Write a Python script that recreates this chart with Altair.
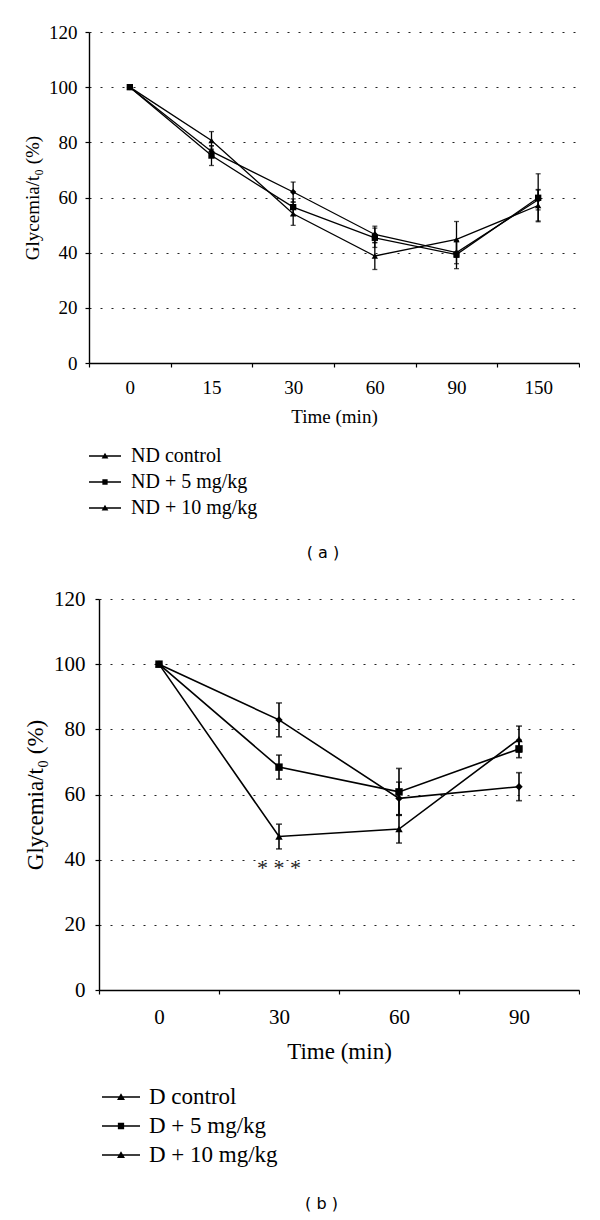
import altair as alt
import pandas as pd

# ---------------- data ----------------
times_a = ["0", "15", "30", "60", "90", "150"]
series_a = ["ND control", "ND + 5 mg/kg", "ND + 10 mg/kg"]
nd_control = [100, 76.7, 62.0, 46.6, 40.0, 59.2]
nd_control_err = [0, 2.0, 3.6, 3.0, 4.0, 3.7]
nd_5 = [100, 75.2, 56.5, 45.4, 39.3, 59.9]
nd_5_err = [0, 3.6, 3.0, 3.5, 5.1, 8.7]
nd_10 = [100, 80.7, 54.1, 38.8, 44.8, 57.1]
nd_10_err = [0, 3.2, 4.2, 4.9, 6.5, 5.6]

times_b = ["0", "30", "60", "90"]
series_b = ["D control", "D + 5 mg/kg", "D + 10 mg/kg"]
d_control = [100, 82.9, 58.8, 62.4]
d_control_err = [0, 5.2, 5.0, 4.3]
d_5 = [100, 68.4, 60.8, 74.0]
d_5_err = [0, 3.7, 7.2, 2.7]
d_10 = [100, 47.1, 49.4, 77.0]
d_10_err = [0, 3.8, 4.3, 4.0]

annot_b = {"time": "30", "value": 37.4, "text": "* * *"}

y_ticks = [0, 20, 40, 60, 80, 100, 120]
plot_shapes = ["diamond", "square", "triangle-up"]
# legend symbols: a short horizontal bar with the marker on it
legend_shapes = [
    "M-2,-0.08H2V0.08H-2ZM0,-0.4L0.42,0.32H-0.42Z",
    "M-2,-0.08H2V0.08H-2ZM-0.33,-0.33H0.33V0.33H-0.33Z",
    "M-2,-0.08H2V0.08H-2ZM0,-0.4L0.42,0.32H-0.42Z",
]

SERIF = "Liberation Serif"


def make_df(times, series, values, errs):
    rows = []
    for s, vals, es in zip(series, values, errs):
        for i, (t, v, e) in enumerate(zip(times, vals, es)):
            rows.append({"series": s, "time": t, "idx": i, "value": v,
                         "err": e, "lo": v - e, "hi": v + e})
    return pd.DataFrame(rows)


def panel(times, series, values, errs, width, height, inset, lab_fs, title_fs,
          leg_fs, lw, msize, cap, label_pad, title_pad_x, y_label_pad,
          y_title_pad, leg_size, leg_off, leg_x, leg_y, leg_rowpad,
          caption, cap_offset, cap_dx, annot=None):
    df = make_df(times, series, values, errs)
    base = alt.Chart(df)
    total_w = width + inset
    if inset:
        xscale = alt.Scale(paddingInner=0, paddingOuter=0,
                           range=[inset, total_w])
    else:
        xscale = alt.Scale(paddingInner=0, paddingOuter=0)
    xaxis = alt.Axis(title="Time (min)", labelAngle=0, tickBand="extent",
                     grid=False, domainColor="black", domainWidth=1.4,
                     tickColor="black", tickSize=4, tickWidth=1.2,
                     labelFont=SERIF, labelFontSize=lab_fs,
                     labelColor="black", labelPadding=label_pad,
                     titleFont=SERIF, titleFontSize=title_fs,
                     titleFontWeight="normal", titleColor="black",
                     titlePadding=title_pad_x)
    x = alt.X("time:O", sort=times, scale=xscale, axis=xaxis)
    yscale = alt.Scale(domain=[0, 120], nice=False)
    yaxis_kw = dict(values=y_ticks, title="Glycemia/t\u2080 (%)",
                    grid=True, gridDash=[2, 9], gridColor="#222",
                    gridWidth=1.2, domainColor="black", domainWidth=1.4,
                    tickColor="black", tickSize=4, tickWidth=1.2,
                    labelFont=SERIF, labelFontSize=lab_fs,
                    labelColor="black", labelPadding=y_label_pad,
                    titleFont=SERIF, titleFontSize=title_fs,
                    titleFontWeight="normal", titleColor="black",
                    titlePadding=y_title_pad)
    if inset:
        yaxis_kw["offset"] = -inset
    yaxis = alt.Axis(**yaxis_kw)

    def Y(field):
        return alt.Y(field, scale=yscale, axis=yaxis)

    lines = base.mark_line(color="black", strokeWidth=lw).encode(
        x=x, y=Y("value:Q"), detail="series:N", order="idx:Q")
    err = base.transform_filter("datum.err > 0")
    rules = err.mark_rule(color="black", strokeWidth=lw).encode(
        x=x, y=Y("lo:Q"), y2="hi:Q")
    caps = err.transform_fold(["lo", "hi"], as_=["which", "cap"]).mark_tick(
        color="black", size=cap, thickness=lw).encode(
        x=x, y=Y("cap:Q"))
    points = base.mark_point(filled=True, color="black", size=msize,
                             opacity=1).encode(
        x=x, y=Y("value:Q"),
        shape=alt.Shape("series:N",
                        scale=alt.Scale(domain=series, range=plot_shapes),
                        legend=None))
    legend_layer = base.transform_filter("false").mark_point(
        filled=True, color="black", size=leg_size, opacity=1).encode(
        shape=alt.Shape("series:N",
                        scale=alt.Scale(domain=series, range=legend_shapes),
                        legend=alt.Legend(title=None, orient="none",
                                          legendX=leg_x, legendY=leg_y,
                                          labelFont=SERIF, labelFontSize=leg_fs,
                                          labelColor="black",
                                          labelOffset=leg_off,
                                          symbolSize=leg_size,
                                          symbolFillColor="black",
                                          symbolOpacity=1,
                                          rowPadding=leg_rowpad,
                                          padding=0,
                                          labelLimit=400)))
    layers = [lines, rules, caps, points, legend_layer]
    if annot is not None:
        adf = pd.DataFrame([annot])
        layers.append(alt.Chart(adf).mark_text(
            font=SERIF, fontSize=22, color="#222",
            baseline="middle").encode(
            x=x, y=Y("value:Q"), text="text:N"))
    ch = alt.layer(*layers).resolve_scale(shape="independent").properties(
        width=total_w, height=height,
        title=alt.TitleParams(caption, orient="bottom", anchor="middle",
                              frame="group", font="DejaVu Sans", fontSize=16,
                              fontWeight="normal", color="black",
                              offset=cap_offset, dx=cap_dx))
    return ch


pa = panel(times_a, series_a, [nd_control, nd_5, nd_10],
           [nd_control_err, nd_5_err, nd_10_err],
           width=490, height=331, inset=0, lab_fs=19, title_fs=19, leg_fs=20,
           lw=1.3, msize=40, cap=5, label_pad=11, title_pad_x=10,
           y_label_pad=8, y_title_pad=6, leg_size=256, leg_off=16, leg_x=6,
           leg_y=414, leg_rowpad=6, caption="( a )", cap_offset=27,
           cap_dx=-11)

pb = panel(times_b, series_b, [d_control, d_5, d_10],
           [d_control_err, d_5_err, d_10_err],
           width=480, height=391, inset=10, lab_fs=21, title_fs=23, leg_fs=23,
           lw=1.6, msize=55, cap=6, label_pad=12, title_pad_x=13,
           y_label_pad=10, y_title_pad=6, leg_size=361, leg_off=16.5,
           leg_x=20.5, leg_y=486.5, leg_rowpad=5, caption="( b )",
           cap_offset=28.5, cap_dx=-12.5, annot=annot_b)

chart = alt.concat(pa, pb, columns=1, spacing=27).properties(
    padding={"left": 15, "top": 15, "right": 0, "bottom": 0}
).configure_view(stroke=None)

chart.save("out.html", embed_options={"renderer": "svg", "actions": False})
